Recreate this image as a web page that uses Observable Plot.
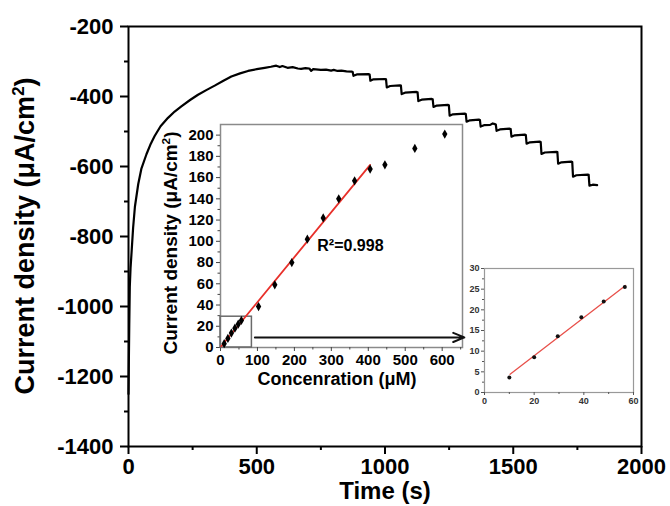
<!DOCTYPE html>
<html>
<head>
<meta charset="utf-8">
<script src="https://cdn.jsdelivr.net/npm/d3@7"></script>
<script src="https://cdn.jsdelivr.net/npm/@observablehq/plot@0.6"></script>
<style>
  html, body { margin: 0; padding: 0; background: #fff; }
  #wrap { position: relative; width: 670px; height: 506px; overflow: hidden; font-family: "Liberation Sans", Arial, sans-serif; font-weight: bold; color: #000; }
  #wrap > svg { position: absolute; }
  .lbl { position: absolute; white-space: nowrap; line-height: 1; }
  .rot { transform: translate(-50%, -50%) rotate(-90deg); }
  .ctr { transform: translate(-50%, -50%); }
  sup { font-size: 0.62em; vertical-align: 0.55em; line-height: 0; }
</style>
</head>
<body>
<div id="wrap"></div>
<script>
// ---------- main amperometric curve ----------
const timeS = [0,1,3,5,8,12,18,25,38,50,70,85,102,125,154,180,206,240,271,305,336,370,401,435,466,500,531,555,576,590,600,620,640,660,673,690,705,712,720,750,770,790,800,815,830,850,870,
  874,877,890,936, 940,943,955,1000, 1004,1007,1020,1058, 1062,1065,1078,1123, 1127,1130,1143,1182,
  1186,1189,1202,1245, 1249,1252,1265,1311, 1315,1318,1331,1366, 1370,1373,1386,1410,1420,1428,
  1432,1435,1448,1486, 1490,1493,1506,1545, 1549,1552,1565,1603, 1607,1610,1623,1668,
  1672,1675,1688,1726, 1730,1733,1746,1790, 1794,1797,1810,1827];
const currentDensity = [-1250,-1180,-1050,-945,-890,-845,-775,-715,-650,-607,-565,-538,-513,-485,-461,-443,-428,-410,-395,-381,-369,-355,-343,-334,-327,-322,-318,-315,-312,-316,-313,-318,-316,-320,-321,-319,-320,-327,-322,-324,-323,-326,-324,-327,-326,-328,-329,
  -330,-341,-337,-336, -337,-355,-351,-350, -351,-374,-370,-368, -369,-393,-389,-387, -388,-413,-409,-407,
  -408,-430,-426,-424, -425,-455,-451,-449, -450,-472,-468,-466, -467,-486,-482,-481,-477,-479,
  -480,-498,-494,-492, -493,-515,-511,-509, -510,-535,-531,-529, -530,-564,-560,-558,
  -559,-592,-588,-586, -587,-629,-625,-623, -624,-655,-652,-653];
const timeTicks = [0,500,1000,1500,2000];
const timeMinor = [250,750,1250,1750];
const densTicks = [-1400,-1200,-1000,-800,-600,-400,-200];
const densMinor = [-1300,-1100,-900,-700,-500,-300];

// ---------- calibration inset ----------
const concentration = [10,20,29.5,39,48,56.5,103,147,193,235,278,320,363,405,445,526,607];
const response = [3.6,8.5,13.6,18.2,22,25.5,38.5,59,80,102,122,140,157,168,172,187.5,201];
const fitConc = [2,405];
const fitResp = [1.2,172];
const concTicks = [0,100,200,300,400,500,600];
const concMinor = [50,150,250,350,450,550,650];
const respTicks = [0,20,40,60,80,100,120,140,160,180,200];
const respMinor = [10,30,50,70,90,110,130,150,170,190];
const zoomBoxConc = [0,85];
const zoomBoxResp = [0,29];
const arrowConc = [93,660];
const arrowResp = [9.5,9.5];

// ---------- low-concentration inset ----------
const lowFitConc = [10.3,56.8];
const lowFitResp = [4.4,25.9];
const lowConcTicks = [0,20,40,60];
const lowConcMinor = [10,30,50];
const lowRespTicks = [0,5,10,15,20,25,30];
const lowRespMinor = [2.5,7.5,12.5,17.5,22.5,27.5];

const FONT = "Liberation Sans, Arial, sans-serif";
const wrap = document.getElementById("wrap");

const curve = timeS.map((t, i) => ({t, j: currentDensity[i]}));
const main = Plot.plot({
  width: 670, height: 506,
  marginLeft: 128, marginRight: 29, marginTop: 26, marginBottom: 60,
  x: {domain: [0, 2000]},
  y: {domain: [-1400, -200]},
  style: {fontFamily: FONT, fontWeight: "bold", background: "transparent", color: "#000"},
  marks: [
    Plot.frame({stroke: "#000", strokeWidth: 2}),
    Plot.axisX({ticks: timeTicks, tickSize: 8, tickPadding: 4, fontSize: 22, fontWeight: "bold", strokeWidth: 2, label: null, tickFormat: d => String(d)}),
    Plot.axisX({ticks: timeMinor, tickSize: 4, strokeWidth: 2, text: null, label: null}),
    Plot.axisY({ticks: densTicks, tickSize: 8, tickPadding: 7, fontSize: 22, fontWeight: "bold", strokeWidth: 2, label: null, tickFormat: d => String(d)}),
    Plot.axisY({ticks: densMinor, tickSize: 4, strokeWidth: 2, text: null, label: null}),
    Plot.line(curve, {x: "t", y: "j", stroke: "#000", strokeWidth: 2.2, strokeLinejoin: "round"})
  ]
});
main.style.left = "0px"; main.style.top = "0px";
wrap.appendChild(main);

// inset 1
const pts = concentration.map((c, i) => ({c, r: response[i]}));
const fitLine = fitConc.map((c, i) => ({c, r: fitResp[i]}));
const inset1 = Plot.plot({
  width: 330, height: 290,
  marginLeft: 70, marginRight: 18, marginTop: 14, marginBottom: 53,
  x: {domain: [0, 655]},
  y: {domain: [0, 210]},
  style: {fontFamily: FONT, fontWeight: "bold", background: "transparent", color: "#000", overflow: "visible"},
  marks: [
    Plot.frame({stroke: "#8a8a8a", strokeWidth: 1.5}),
    Plot.axisX({ticks: concTicks, tickSize: 4, tickPadding: 3, fontSize: 15, fontWeight: "bold", label: null, stroke: "#444"}),
    Plot.axisX({ticks: concMinor, tickSize: 2.5, text: null, label: null, stroke: "#444"}),
    Plot.axisY({ticks: respTicks, tickSize: 4, tickPadding: 3, fontSize: 15, fontWeight: "bold", label: null, stroke: "#444"}),
    Plot.axisY({ticks: respMinor, tickSize: 2.5, text: null, label: null, stroke: "#444"}),
    Plot.rect([{x1: zoomBoxConc[0], x2: zoomBoxConc[1], y1: zoomBoxResp[0], y2: zoomBoxResp[1]}], {x1: "x1", x2: "x2", y1: "y1", y2: "y2", fill: "none", stroke: "#6a6a6a", strokeWidth: 1.5}),
    Plot.arrow([{x1: arrowConc[0], x2: arrowConc[1], y1: arrowResp[0], y2: arrowResp[1]}], {x1: "x1", x2: "x2", y1: "y1", y2: "y2", stroke: "#111", strokeWidth: 2, headLength: 9, headAngle: 45, clip: false}),
    Plot.line(fitLine, {x: "c", y: "r", stroke: "#e8302a", strokeWidth: 1.8}),
    Plot.dot(pts, {x: "c", y: "r", symbol: "diamond", r: 2.8, fill: "#000"}),
    Plot.text(["R²=0.998"], {x: 262, y: 96, text: d => d, textAnchor: "start", fontSize: 16, fontWeight: "bold", fill: "#000"})
  ]
});
inset1.style.left = "150px"; inset1.style.top = "110px";
wrap.appendChild(inset1);

// inset 2
const lowPts = pts.slice(0, 6);
const lowFit = lowFitConc.map((c, i) => ({c, r: lowFitResp[i]}));
const inset2 = Plot.plot({
  width: 200, height: 160,
  marginLeft: 29, marginRight: 22, marginTop: 13, marginBottom: 23,
  x: {domain: [0, 60]},
  y: {domain: [0, 30]},
  style: {fontFamily: FONT, fontWeight: "bold", background: "transparent", color: "#333"},
  marks: [
    Plot.frame({stroke: "#999", strokeWidth: 1.2}),
    Plot.axisX({ticks: lowConcTicks, tickSize: 3, tickPadding: 2, fontSize: 9, fontWeight: "bold", label: null, stroke: "#555"}),
    Plot.axisX({ticks: lowConcMinor, tickSize: 2, text: null, label: null, stroke: "#555"}),
    Plot.axisY({ticks: lowRespTicks, tickSize: 3, tickPadding: 2, fontSize: 9, fontWeight: "bold", label: null, stroke: "#555"}),
    Plot.axisY({ticks: lowRespMinor, tickSize: 2, text: null, label: null, stroke: "#555"}),
    Plot.line(lowFit, {x: "c", y: "r", stroke: "#e8504a", strokeWidth: 1.3}),
    Plot.dot(lowPts, {x: "c", y: "r", r: 2, fill: "#111"})
  ]
});
inset2.style.left = "455px"; inset2.style.top = "255px";
wrap.appendChild(inset2);

// titles (real text)
function label(html, x, y, size, cls) {
  const d = document.createElement("div");
  d.className = "lbl " + cls;
  d.style.left = x + "px"; d.style.top = y + "px"; d.style.fontSize = size + "px";
  d.innerHTML = html;
  wrap.appendChild(d);
}
label("Current density (μA/cm<sup>2</sup>)", 25, 236, 27, "rot");
label("Time (s)", 385, 491, 24, "ctr");
label("Current density (μA/cm<sup>2</sup>)", 170, 243, 19, "rot");
label("Concenration (μM)", 337, 379, 18, "ctr");
</script>
</body>
</html>
